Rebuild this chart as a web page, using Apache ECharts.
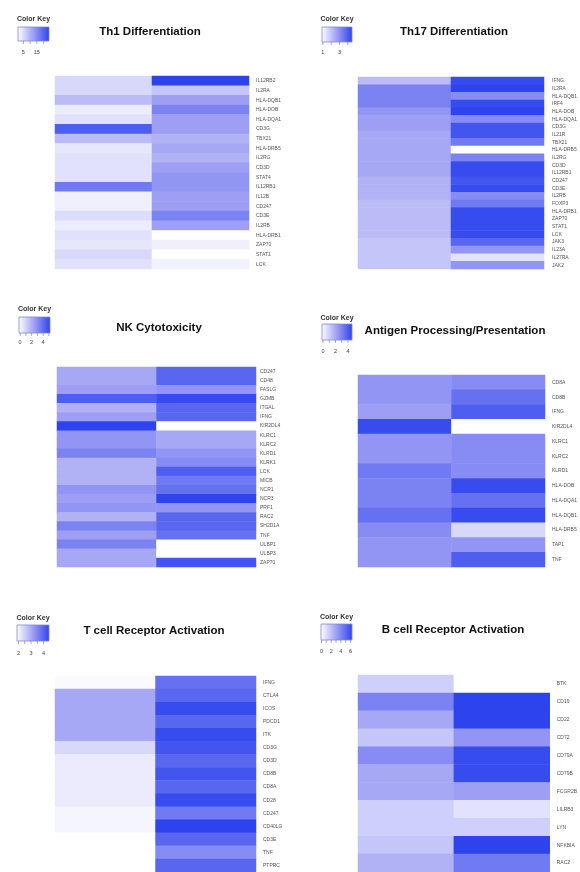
<!DOCTYPE html>
<html><head><meta charset="utf-8">
<script src="https://cdn.jsdelivr.net/npm/echarts@6/dist/echarts.min.js"></script>
<style>html,body{margin:0;padding:0;background:#fff}#c{width:580px;height:872px}</style>
</head><body><div id="c"></div>
<script>
// ---------- DATA ----------
const sampleCols = ['Group A', 'Group B'];

const th1Genes = ['IL12RB2','IL2RA','HLA-DQB1','HLA-DOB','HLA-DQA1','CD3G','TBX21','HLA-DRB5','IL2RG','CD3D','STAT4','IL12RB1','IL12B','CD247','CD3E','IL2RB','HLA-DRB1','ZAP70','STAT1','LCK'];
const th1Left  = [5.6,5.6,9.1,3.3,4.5,20.6,9.1,3.8,4.5,4.5,4.5,17.1,2.8,2.8,5.1,3.3,4.5,3.8,5.6,4.5];
const th1Right = [24,7.9,12.5,16,12.5,12.5,10.2,11.4,10.2,12.5,13.7,13.7,12.5,12.5,16,12.5,1,2.8,1,2.6];
const th1Ticks = [5,10,15,20];
const th1TickLabels = [5,15];

const th17Genes = ['IFNG','IL2RA','HLA-DQB1','IRF4','HLA-DOB','HLA-DQA1','CD3G','IL21R','TBX21','HLA-DRB5','IL2RG','CD3D','IL12RB1','CD247','CD3E','IL2RB','FOXP3','HLA-DRB1','ZAP70','STAT1','LCK','JAK3','IL23A','IL27RA','JAK2'];
const th17Left  = [2.16,3.24,3.24,3.24,2.88,2.7,2.7,2.52,2.52,2.52,2.52,2.52,2.52,2.34,2.34,2.34,2.16,2.16,2.16,2.16,2.16,1.98,1.98,1.98,1.98];
const th17Right = [4.32,4.5,3.06,4.32,4.5,3.06,4.14,4.14,3.42,0.9,3.24,4.32,4.32,4.14,4.32,3.06,3.42,4.32,4.32,4.32,4.32,3.78,2.88,1.44,2.88];
const th17Ticks = [1,2,3,4];
const th17TickLabels = [1,3];

const nkGenes = ['CD247','CD48','FASLG','GZMB','ITGAL','IFNG','KIR2DL4','KLRC1','KLRC2','KLRD1','KLRK1','LCK','MICB','NCR1','NCR3','PRF1','RAC2','SH2D1A','TNF','ULBP1','ULBP3','ZAP70'];
const nkLeft  = [2.23,2.23,2.5,4.39,1.96,2.5,5.2,2.77,2.77,3.31,1.96,1.96,1.96,2.77,2.5,2.77,1.96,3.31,2.5,3.31,2.23,2.23];
const nkRight = [4.12,4.12,2.77,4.93,4.12,4.12,-0.2,2.23,2.23,2.77,3.04,4.39,3.58,3.85,5.2,2.77,4.12,4.12,3.85,-0.2,-0.2,4.66];
const nkTicks = [0,1,2,3,4,5];
const nkTickLabels = [0,2,4];

const agGenes = ['CD8A','CD8B','IFNG','KIR2DL4','KLRC1','KLRC2','KLRD1','HLA-DOB','HLA-DQA1','HLA-DQB1','HLA-DRB5','TAP1','TNF'];
const agLeft  = [2.49,2.49,2.25,4.41,2.49,2.49,3.21,2.97,2.97,3.45,2.73,2.49,2.49];
const agRight = [2.73,3.45,3.93,-0.15,2.73,2.73,2.73,4.41,3.45,4.41,0.81,2.49,3.93];
const agTicks = [0,1,2,3,4];
const agTickLabels = [0,2,4];

const tcrGenes = ['IFNG','CTLA4','ICOS','PDCD1','ITK','CD3G','CD3D','CD8B','CD8A','CD28','CD247','CD40LG','CD3E','TNF','PTPRC'];
const tcrLeft  = [1.96,3.03,3.03,3.03,3.03,2.39,2.14,2.14,2.14,2.14,2.01,2.01,1.88,1.88,1.88];
const tcrRight = [3.8,3.93,4.31,3.93,4.31,4.18,3.93,4.18,3.93,4.31,3.67,4.44,3.93,3.42,3.93];
const tcrTicks = [2,2.5,3,3.5,4];
const tcrTickLabels = [2,3,4];

const bcrGenes = ['BTK','CD19','CD22','CD72','CD79A','CD79B','FCGR2B','LILRB3','LYN','NFKBIA','RAC2'];
const bcrLeft  = [1.5,4.06,2.78,1.82,3.74,2.78,2.78,1.5,1.5,1.82,2.46];
const bcrRight = [-0.1,6.3,6.3,3.42,5.98,5.98,3.1,0.86,1.5,6.3,4.38];
const bcrTicks = [0,1,2,3,4,5,6];
const bcrTickLabels = [0,2,4,6];

// ---------- LAYOUT / STYLE ----------
const colorStops = ['#ffffff', '#9d9ef4', '#2c43ee'];
const panels = [
  {title:'Th1 Differentiation', genes:th1Genes, a:th1Left, b:th1Right, min:1, max:24, ticks:th1Ticks, tl:th1TickLabels,
   grid:{left:55, top:76, width:194, height:193}, margin:7, tpos:[150,32], key:{x:18,y:27,w:31,h:14}, keyTitleY:19, tlY:52},
  {title:'Th17 Differentiation', genes:th17Genes, a:th17Left, b:th17Right, min:0.9, max:4.5, ticks:th17Ticks, tl:th17TickLabels,
   grid:{left:358, top:77, width:192, height:192}, margin:8, tpos:[454,32], key:{x:322,y:27,w:30,h:15}, keyTitleY:19, tlY:52},
  {title:'NK Cytotoxicity', genes:nkGenes, a:nkLeft, b:nkRight, min:-0.2, max:5.2, ticks:nkTicks, tl:nkTickLabels,
   grid:{left:57, top:367, width:199, height:200}, margin:4, tpos:[159,328], key:{x:19,y:317,w:31,h:16}, keyTitleY:309, tlY:342},
  {title:'Antigen Processing/Presentation', genes:agGenes, a:agLeft, b:agRight, min:-0.15, max:4.65, ticks:agTicks, tl:agTickLabels,
   grid:{left:358, top:375, width:193, height:192}, margin:7, tpos:[455,331], key:{x:322,y:324,w:30,h:16}, keyTitleY:318, tlY:351},
  {title:'T cell Receptor Activation', genes:tcrGenes, a:tcrLeft, b:tcrRight, min:1.88, max:4.44, ticks:tcrTicks, tl:tcrTickLabels,
   grid:{left:55, top:676, width:201, height:201}, margin:7, tpos:[154,631], key:{x:17,y:625,w:32,h:16}, keyTitleY:618, tlY:653},
  {title:'B cell Receptor Activation', genes:bcrGenes, a:bcrLeft, b:bcrRight, min:-0.1, max:6.3, ticks:bcrTicks, tl:bcrTickLabels,
   grid:{left:358, top:675, width:198, height:198}, margin:7, tpos:[453,630], key:{x:321,y:624,w:31,h:16}, keyTitleY:617, tlY:651}
];

const FONT = '"Liberation Sans", Arial, Helvetica, sans-serif';
const grids = [], xAxes = [], yAxes = [], series = [], visualMaps = [], graphics = [];

panels.forEach((p, i) => {
  grids.push(Object.assign({containLabel:false}, p.grid));
  xAxes.push({type:'category', gridIndex:i, data:sampleCols, show:false});
  yAxes.push({type:'category', gridIndex:i, data:p.genes, inverse:true, position:'right',
    axisLine:{show:false}, axisTick:{show:false}, splitLine:{show:false},
    axisLabel:{show:true, interval:0, fontSize:5, color:'#555', margin:p.margin, fontFamily:FONT}});
  const data = [];
  p.genes.forEach((g, r) => { data.push([0, r, p.a[r]]); data.push([1, r, p.b[r]]); });
  series.push({type:'heatmap', xAxisIndex:i, yAxisIndex:i, data:data, emphasis:{disabled:true},
    itemStyle:{borderWidth:0}, progressive:0, animation:false});
  visualMaps.push({type:'continuous', show:false, seriesIndex:i, min:p.min, max:p.max, inRange:{color:colorStops}});

  // title
  graphics.push({type:'text', x:p.tpos[0], y:p.tpos[1], style:{text:p.title, fontSize:11.5, fontWeight:'bold',
    fill:'#111', align:'center', verticalAlign:'middle', font:'bold 11.5px ' + FONT}});
  // color key
  const k = p.key;
  graphics.push({type:'text', x:k.x + k.w/2, y:p.keyTitleY, style:{text:'Color Key', align:'center', verticalAlign:'middle',
    font:'bold 7px ' + FONT, fill:'#333'}});
  graphics.push({type:'rect', shape:{x:k.x, y:k.y, width:k.w, height:k.h}, style:{
    fill:new echarts.graphic.LinearGradient(0,0,1,0,[{offset:0,color:colorStops[0]},{offset:0.5,color:colorStops[1]},{offset:1,color:colorStops[2]}]),
    stroke:'#8387d6', lineWidth:0.8}});
  p.ticks.forEach(t => {
    const tx = k.x + (t - p.min) / (p.max - p.min) * k.w;
    graphics.push({type:'line', shape:{x1:tx, y1:k.y + k.h, x2:tx, y2:k.y + k.h + 3}, style:{stroke:'#777', lineWidth:0.6}});
  });
  p.tl.forEach(t => {
    const tx = k.x + (t - p.min) / (p.max - p.min) * k.w;
    graphics.push({type:'text', x:tx, y:p.tlY, style:{text:String(t), align:'center', verticalAlign:'middle',
      font:'5.5px ' + FONT, fill:'#444'}});
  });
});

const chart = echarts.init(document.getElementById('c'), null, {renderer:'canvas'});
chart.setOption({
  backgroundColor:'#ffffff',
  animation:false,
  grid:grids, xAxis:xAxes, yAxis:yAxes, visualMap:visualMaps, series:series,
  graphic:{elements:graphics}
});
</script>
</body></html>
